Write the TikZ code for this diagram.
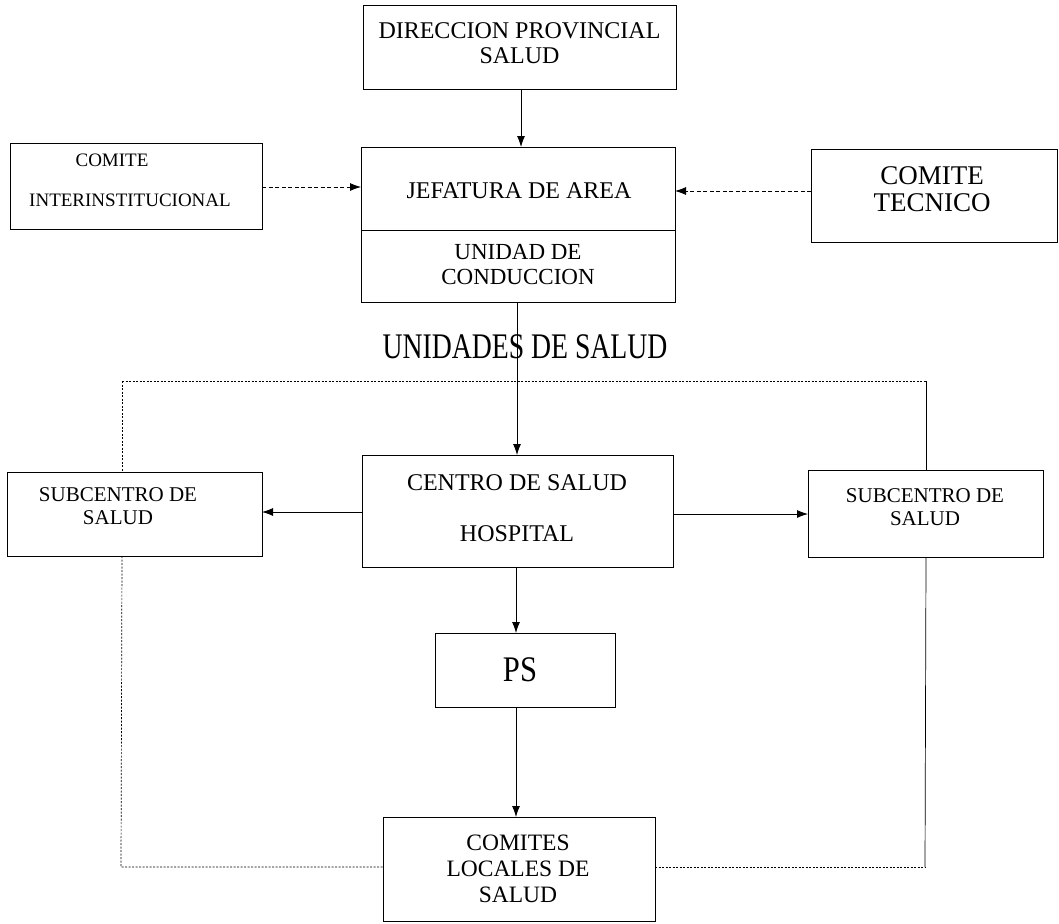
\documentclass[tikz,border=0pt]{standalone}
\usepackage{fontspec}
\usepackage{graphicx}
\setmainfont{Liberation Serif}
\usetikzlibrary{arrows.meta}
\begin{document}
\begin{tikzpicture}[x=1pt,y=-1pt,
  box/.style={draw,line width=0.9pt,inner sep=0pt,outer sep=0pt},
  lbl/.style={inner sep=0pt,align=center},
  arr/.style={line width=0.8pt,-{Latex[length=11pt,width=8pt]}},
  darr/.style={line width=0.8pt,dash pattern=on 4pt off 2.5pt,-{Latex[length=11pt,width=8pt]}},
  frame/.style={line width=0.7pt,dash pattern=on 2pt off 1.5pt},
  fsA/.style={font=\fontsize{24}{25}\selectfont},
  fsU/.style={font=\fontsize{23}{25}\selectfont},
  fsB/.style={font=\fontsize{19}{20}\selectfont},
  fsC/.style={font=\fontsize{27}{27}\selectfont},
  fsD/.style={font=\fontsize{21}{23}\selectfont},
  fsF/.style={font=\fontsize{24}{26}\selectfont},
  fsG/.style={font=\fontsize{23.5}{26}\selectfont},
  fsE/.style={font=\fontsize{36}{40}\selectfont}]
\useasboundingbox (0,0) rectangle (1059,923);
\fill[white] (0,0) rectangle (1059,923);
% boxes
\node[box,minimum width=313pt,minimum height=84pt] (dir) at (519.5,47) {};
\node[box,minimum width=314pt,minimum height=83pt] (jef) at (518,188.5) {};
\node[box,minimum width=314pt,minimum height=72pt] (uni) at (518,266) {};
\node[box,minimum width=252pt,minimum height=86pt] (inter) at (136,186) {};
\node[box,minimum width=246pt,minimum height=93pt] (tec) at (934,195.5) {};
\node[box,minimum width=311pt,minimum height=112pt] (cen) at (517.5,511) {};
\node[box,minimum width=255pt,minimum height=84pt] (subl) at (134.5,514) {};
\node[box,minimum width=235pt,minimum height=87pt] (subr) at (925.5,513.5) {};
\node[box,minimum width=180pt,minimum height=74pt] (ps) at (525,670) {};
\node[box,minimum width=272pt,minimum height=104pt] (com) at (519,869) {};
% texts
\node[lbl,fsA] (tdir) at (519.5,43) {DIRECCION PROVINCIAL\\SALUD};
\node[lbl,fsA] (tjef) at (519,191) {JEFATURA DE AREA};
\node[lbl,fsU] (tuni) at (518,265) {UNIDAD DE\\CONDUCCION};
\node[lbl,fsB] (tint1) at (112,160) {COMITE};
\node[lbl,fsB] (tint2) at (130,200) {INTERINSTITUCIONAL};
\node[lbl,fsC] (ttec) at (932,189) {COMITE\\TECNICO};
\node[lbl,fsE] (tuds) at (525,347) {\scalebox{0.77}[1]{UNIDADES DE SALUD}};
\node[lbl,fsF] (tcen1) at (517,483) {CENTRO DE SALUD};
\node[lbl,fsF] (tcen2) at (517,534) {HOSPITAL};
\node[lbl,fsD] (tsubl) at (118,506) {SUBCENTRO DE\\SALUD};
\node[lbl,fsD] (tsubr) at (925,507) {SUBCENTRO DE\\SALUD};
\node[lbl,fsE] (tps) at (520,670) {\scalebox{0.85}[1]{PS}};
\node[lbl,fsG] (tcom) at (518,869) {COMITES\\LOCALES DE\\SALUD};
% frame coordinates
\coordinate (ftl) at (122,381);
\coordinate (ftr) at (926,381);
\coordinate (fbl) at (121,867);
\coordinate (fbr) at (925,867);
% frame
\draw[frame] (ftl) -- (ftr);
\draw[frame] (ftl) -- (ftl |- subl.north);
\draw[frame] (ftl |- subl.south) -- (fbl) -- (fbl -| com.west);
\draw[frame] (fbr -| com.east) -- (fbr);
\draw[line width=0.7pt] (ftr) -- (ftr |- subr.north);
\draw[line width=0.7pt] (ftr |- subr.south) -- (fbr);
% connectors
\draw[arr] (dir.south -| 521,0) -- (jef.north -| 521,0);
\draw[arr] (uni.south -| 517,0) -- (cen.north -| 517,0);
\draw[arr] (cen.south -| 516,0) -- (ps.north -| 516,0);
\draw[arr] (ps.south -| 516,0) -- (com.north -| 516,0);
\draw[arr] (cen.west |- 0,512) -- (subl.east |- 0,512);
\draw[arr] (cen.east |- 0,514) -- (subr.west |- 0,514);
\draw[darr] (inter.east |- 0,187) -- (jef.west |- 0,187);
\draw[darr] (tec.west |- 0,191) -- (jef.east |- 0,191);
\end{tikzpicture}
\end{document}
